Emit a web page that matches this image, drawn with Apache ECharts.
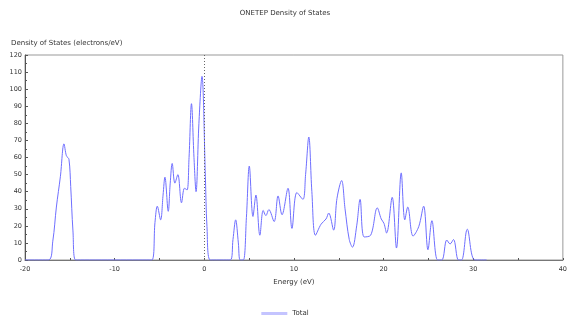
<!DOCTYPE html>
<html>
<head>
<meta charset="utf-8">
<title>ONETEP Density of States</title>
<script src="https://cdn.jsdelivr.net/npm/echarts@6/dist/echarts.min.js"></script>
<style>
  html, body { margin: 0; padding: 0; background: #fff; }
  #chart { width: 570px; height: 326px; }
</style>
</head>
<body>
<div id="chart"></div>
<script>
// energies (eV) and total DOS (electrons/eV)
const energies = [
  -20, -17.4, -16.9, -16.5, -16.05, -15.65, -15.38, -15.1, -14.9, -14.65, -14.35,
  -5.86, -5.5, -5.24, -4.87, -4.6, -4.39, -4.02, -3.8, -3.58, -3.28, -2.95, -2.54,
  -2.21, -1.92, -1.7, -1.43, -1.15, -0.92, -0.6, -0.26, 0.12, 0.3, 0.67,
  2.9, 3.2, 3.5, 3.8, 4.0, 4.36, 4.7, 5.02, 5.43, 5.76, 6.2, 6.57, 6.87, 7.2,
  7.79, 8.23, 8.67, 9.34, 9.78, 10.33, 11.0, 11.3, 11.66, 12.0, 12.4, 13.03,
  13.58, 13.88, 14.43, 14.8, 15.32, 15.7, 16.17, 16.53, 17.0, 17.38, 17.83,
  18.56, 19.3, 19.74, 20.04, 20.34, 20.96, 21.44, 21.97, 22.37, 22.7, 23.29,
  23.92, 24.47, 24.95, 25.39, 26.02, 26.5, 27.05, 27.42, 27.8, 28.35, 28.7,
  29.34, 30.19, 31.5
];
const totalDos = [
  0, 0, 11, 31, 49, 68, 61, 59, 43, 17, 0,
  0, 22, 31.5, 23.5, 38, 48.5, 28.5, 45, 56.5, 45, 50, 33.5,
  42, 41, 60, 91.5, 60, 40, 80, 107.5, 49, 19.5, 0,
  0, 12, 23.5, 10, 0, 0, 25, 55, 25.5, 38, 14.5, 29, 26, 29.5,
  22.5, 37.5, 26.5, 42, 18.5, 39.5, 35.5, 50, 72, 40, 14.5, 21,
  24, 27.5, 17.5, 36, 46.5, 30, 12, 7.5, 20, 35.5, 13.5,
  14.5, 30.5, 24, 21.5, 15.8, 36.7, 7, 51, 23.5, 31, 14,
  19.5, 31.5, 6, 23, 0, 0, 11.7, 9.4, 12, 0, 0,
  18, 0, 0
];
const fermiLevel = 0;

const chart = echarts.init(document.getElementById('chart'));
const font = 'DejaVu Sans';
const txt = '#333';

chart.setOption({
  animation: false,
  title: {
    text: 'ONETEP Density of States',
    left: 'center',
    top: 5,
    textStyle: { fontFamily: font, fontSize: 7, fontWeight: 'normal', color: txt }
  },
  legend: {
    bottom: 4,
    left: 'center',
    icon: 'rect',
    itemWidth: 26,
    itemHeight: 3,
    itemGap: 8,
    textStyle: { fontFamily: font, fontSize: 7, color: txt },
    data: [{ name: 'Total', itemStyle: { color: '#c4c4ff' } }]
  },
  grid: { left: 25, right: 3, top: 55, bottom: 66, show: true, borderColor: '#999', borderWidth: 1 },
  xAxis: {
    type: 'value',
    min: -20,
    max: 40,
    interval: 5,
    name: 'Energy (eV)',
    nameLocation: 'middle',
    nameGap: 19,
    nameTextStyle: { fontFamily: font, fontSize: 7, color: txt },
    axisLine: { onZero: false, lineStyle: { color: '#777' } },
    axisTick: { inside: true, length: 2, lineStyle: { color: '#555' } },
    splitLine: { show: false },
    axisLabel: {
      fontFamily: font, fontSize: 6.5, color: txt, margin: 6,
      formatter: v => (v % 10 === 0 ? String(v) : '')
    }
  },
  yAxis: {
    type: 'value',
    min: 0,
    max: 120,
    interval: 10,
    name: 'Density of States (electrons/eV)',
    nameLocation: 'end',
    nameGap: 8,
    nameTextStyle: { fontFamily: font, fontSize: 7, color: txt, align: 'left', padding: [0, 0, 0, -14] },
    axisLine: { show: true, onZero: false, lineStyle: { color: '#555' } },
    axisTick: { show: true, inside: true, length: 3, lineStyle: { color: '#555' } },
    minorTick: { show: true, splitNumber: 2, length: 2, lineStyle: { color: '#555' } },
    splitLine: { show: false },
    axisLabel: { fontFamily: font, fontSize: 6.5, color: txt, margin: 3 }
  },
  series: [{
    name: 'Total',
    type: 'line',
    data: energies.map((e, i) => [e, totalDos[i]]),
    smooth: 0.35,
    showSymbol: false,
    lineStyle: { color: '#6f6fff', width: 1 },
    itemStyle: { color: '#c4c4ff' },
    markLine: {
      silent: true,
      symbol: 'none',
      label: { show: false },
      lineStyle: { color: '#666', type: [1, 2], width: 1 },
      data: [{ xAxis: fermiLevel }]
    }
  }]
});
</script>
</body>
</html>
